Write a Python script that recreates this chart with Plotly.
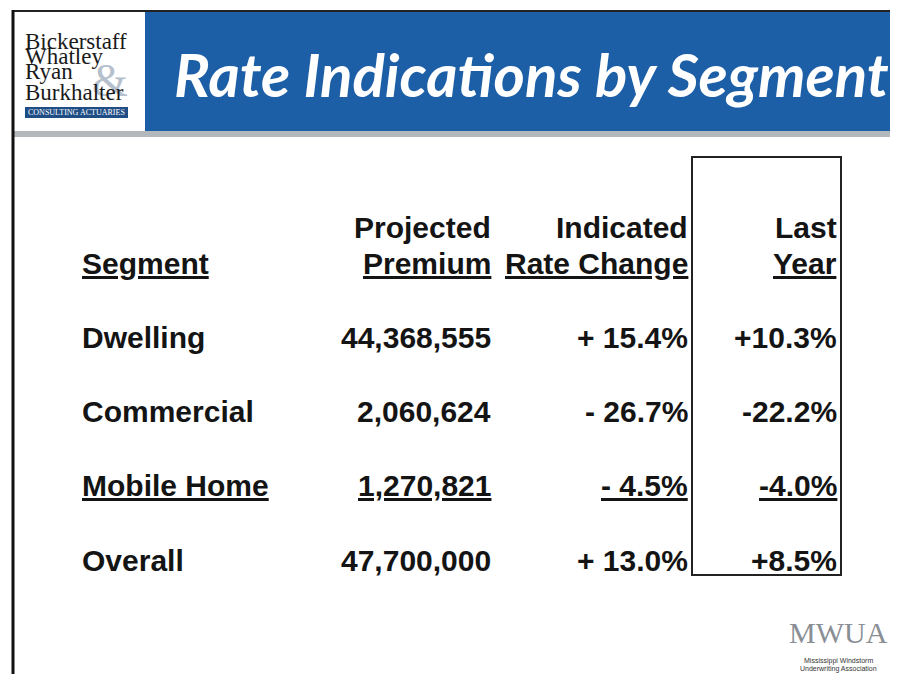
import plotly.graph_objects as go

# ---------------- data ----------------
title = "Rate Indications by Segment"
col_headers_top = ["", "Projected", "Indicated", "Last"]
col_headers_bottom = ["Segment", "Premium", "Rate Change", "Year"]
segments = ["Dwelling", "Commercial", "Mobile Home", "Overall"]
projected_premium = [44368555, 2060624, 1270821, 47700000]
indicated_change = [15.4, -26.7, -4.5, 13.0]
last_year_change = [10.3, -22.2, -4.0, 8.5]
underlined_rows = [False, False, True, False]
logo_lines = ["Bickerstaff", "Whatley", "Ryan", "Burkhalter"]
logo_tag = "CONSULTING ACTUARIES"
mwua_lines = ["MWUA", "Mississippi Windstorm", "Underwriting Association"]

W, H = 898, 682
OFF = 8  # page body margin; axes below map data units to window pixels
FONT = "Liberation Sans, Arial, sans-serif"
SIZE = 30
INK = "#141414"


def fmt_ind(v):
    return ("+ " if v >= 0 else "- ") + f"{abs(v):.1f}%"


def fmt_last(v):
    return ("+" if v >= 0 else "-") + f"{abs(v):.1f}%"


def u(s, flag):
    return f"<u>{s}</u>" if flag else s


fig = go.Figure()
fig.add_trace(go.Scatter(x=[OFF, W], y=[OFF, H - OFF], mode="markers",
                         marker=dict(opacity=0), hoverinfo="skip", showlegend=False))

shapes = []
ann = []

# ---------- slide frame & header ----------
shapes.append(dict(type="rect", x0=14, x1=W + 20, y0=11, y1=131, fillcolor="#1c5fa6", line=dict(width=0)))
shapes.append(dict(type="rect", x0=14, x1=145, y0=11, y1=131, fillcolor="white", line=dict(width=0)))
shapes.append(dict(type="rect", x0=14, x1=W + 20, y0=131, y1=137, fillcolor="#b3b8bd", line=dict(width=0)))
shapes.append(dict(type="line", x0=12, x1=W + 20, y0=11, y1=11, line=dict(color="#222222", width=2)))
shapes.append(dict(type="line", x0=13, x1=13, y0=10, y1=H + 5, line=dict(color="#111111", width=3)))

ann.append(dict(x=531, y=74, text=f"<b><i>{title}</i></b>", showarrow=False,
                xanchor="center", yanchor="middle",
                font=dict(family="Lato, sans-serif", size=60, color="white")))

# logo
ann.append(dict(x=110, y=80, text="&amp;", showarrow=False, xanchor="center", yanchor="middle",
                font=dict(family="Liberation Serif, serif", size=46, color="#b6c0cc")))
logo_base = [41, 56, 71, 92]
for s, yy in zip(logo_lines, logo_base):
    ann.append(dict(x=23, y=yy, text=s, showarrow=False, xanchor="left", yanchor="middle",
                    font=dict(family="Liberation Serif, serif", size=23, color="#1a1a1a")))
shapes.append(dict(type="rect", x0=25, x1=128, y0=107, y1=118, fillcolor="#1f4e86", line=dict(width=0)))
ann.append(dict(x=76.5, y=112.5, text=logo_tag, showarrow=False, xanchor="center", yanchor="middle",
                font=dict(family="Liberation Serif, serif", size=8, color="white")))

# ---------- table ----------
col_x = [80, 493, 690, 839]
col_anchor = ["left", "right", "right", "right"]
y_top, y_bot = 227, 263
for i in range(4):
    if col_headers_top[i]:
        ann.append(dict(x=col_x[i], y=y_top, text=f"<b>{col_headers_top[i]}</b>", showarrow=False,
                        xanchor=col_anchor[i], yanchor="middle", font=dict(family=FONT, size=SIZE, color=INK)))
    ann.append(dict(x=col_x[i], y=y_bot, text=f"<b><u>{col_headers_bottom[i]}</u></b>", showarrow=False,
                    xanchor=col_anchor[i], yanchor="middle", font=dict(family=FONT, size=SIZE, color=INK)))

row_y0, row_step = 337, 74.4
for r, seg in enumerate(segments):
    yy = row_y0 + r * row_step
    cells = [seg, f"{projected_premium[r]:,}", fmt_ind(indicated_change[r]), fmt_last(last_year_change[r])]
    for i in range(4):
        ann.append(dict(x=col_x[i], y=yy, text=f"<b>{u(cells[i], underlined_rows[r])}</b>", showarrow=False,
                        xanchor=col_anchor[i], yanchor="middle", font=dict(family=FONT, size=SIZE, color=INK)))

# Last-year box
shapes.append(dict(type="rect", x0=692, x1=841, y0=157, y1=575, line=dict(color="#222222", width=2),
                   fillcolor="rgba(0,0,0,0)"))

# ---------- MWUA logo ----------
ann.append(dict(x=838, y=632, text=mwua_lines[0], showarrow=False, xanchor="center", yanchor="middle",
                font=dict(family="Liberation Serif, serif", size=30, color="#8a8f96")))
ann.append(dict(x=838, y=661, text=mwua_lines[1], showarrow=False, xanchor="center", yanchor="middle",
                font=dict(family="Liberation Sans, sans-serif", size=7, color="#333333")))
ann.append(dict(x=838, y=669, text=mwua_lines[2], showarrow=False, xanchor="center", yanchor="middle",
                font=dict(family="Liberation Sans, sans-serif", size=7, color="#333333")))

fig.update_layout(
    width=W, height=H - 2 * OFF, margin=dict(l=0, r=0, t=0, b=0),
    paper_bgcolor="white", plot_bgcolor="white",
    xaxis=dict(range=[OFF, W + OFF], visible=False, fixedrange=True),
    yaxis=dict(range=[H - OFF, OFF], visible=False, fixedrange=True),
    shapes=shapes, annotations=ann, showlegend=False,
)
fig.write_html("out.html")
